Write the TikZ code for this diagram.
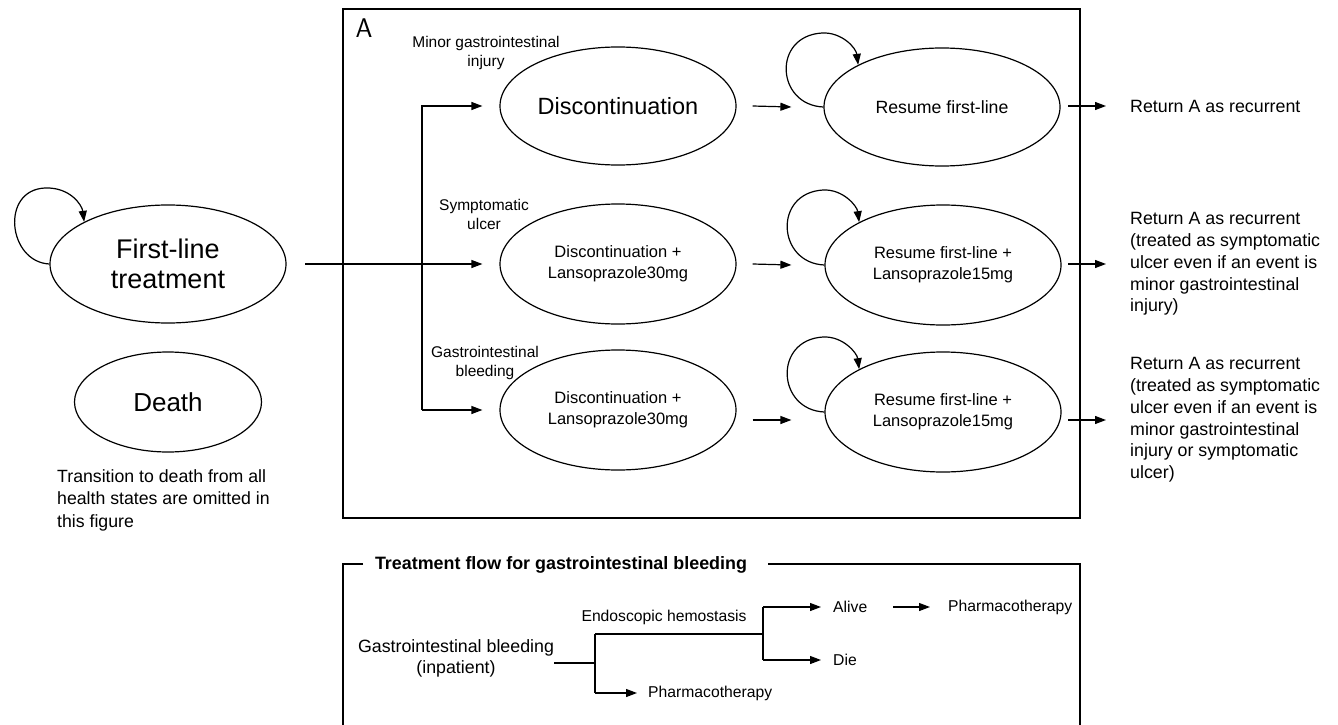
\documentclass[tikz,border=0pt]{standalone}
\usepackage{fontspec}
\setmainfont{Liberation Sans}
\usetikzlibrary{shapes.geometric,arrows.meta,calc}
\begin{document}
\begin{tikzpicture}[x=1pt,y=-1pt,
  state/.style={draw, ellipse, line width=1.2pt, inner sep=0pt, align=center},
  arr/.style={line width=1.2pt, -{Triangle[length=11pt,width=8pt]}},
  ln/.style={line width=1.2pt},
  lbl/.style={inner sep=0pt, align=center, font=\fontsize{15.5}{19}\selectfont},
  side/.style={inner sep=0pt, align=left, anchor=west, font=\fontsize{17.8}{21.8}\selectfont},
  small/.style={inner sep=0pt, anchor=west, font=\fontsize{15.7}{19}\selectfont},
]
\useasboundingbox (0,0) rectangle (1338,725);

% ---- left part
\node[state, minimum width=236, minimum height=118, font=\fontsize{27}{30}\selectfont] (fl) at (168,264) {First-line\\treatment};
\node[state, minimum width=187, minimum height=100, font=\fontsize{26}{30}\selectfont] (death) at (168,402) {Death};
\node[inner sep=0pt, align=left, anchor=west, font=\fontsize{17.7}{22.5}\selectfont] (note) at (57,500) {Transition to death from all\\health states are omitted in\\this figure};
\draw[arr] (fl.west) .. controls (8,262) and (0,190) .. (45,188) .. controls (70,187) and (82,205) .. (fl.north west);

% ---- box A
\draw[ln] (343,9) rectangle (1080,518);
\node[inner sep=0pt, font=\sffamily\fontsize{27}{27}\selectfont] (A) at (364,28.5) {A};

\node[state, minimum width=236, minimum height=118, font=\fontsize{23.5}{28}\selectfont] (d1) at (618,106) {Discontinuation};
\node[state, minimum width=236, minimum height=120, font=\fontsize{16.5}{21}\selectfont] (d2) at (618,264) {Discontinuation +\\Lansoprazole30mg};
\node[state, minimum width=236, minimum height=120, font=\fontsize{16.5}{21}\selectfont] (d3) at (618,410) {Discontinuation +\\Lansoprazole30mg};

\node[state, minimum width=236, minimum height=118, font=\fontsize{17.7}{21}\selectfont] (r1) at (942,107) {Resume first-line};
\node[state, minimum width=236, minimum height=120, font=\fontsize{16.5}{21}\selectfont] (r2) at (943,265) {Resume first-line +\\Lansoprazole15mg};
\node[state, minimum width=236, minimum height=120, font=\fontsize{16.5}{21}\selectfont] (r3) at (943,412) {Resume first-line +\\Lansoprazole15mg};

\node[lbl] (l1) at (486,53) {Minor gastrointestinal\\injury};
\node[lbl] (l2) at (484,214) {Symptomatic\\ulcer};
\node[lbl] (l3) at (485,363) {Gastrointestinal\\bleeding};

% connectors into column 1
\coordinate (s0) at (305,264);
\coordinate (v1) at (422,106);
\coordinate (v3) at (422,410);
\draw[arr] (s0) -- ([xshift=-17pt]d2.west);
\draw[arr, line join=miter] (v3) -- (v1) -- ([xshift=-17pt]d1.west);
\draw[arr] (v3) -- ([xshift=-17pt]d3.west);

% column 1 -> column 2
\draw[arr] ([xshift=16pt]d1.east) -- ([xshift=-32pt]r1.west);
\draw[arr] ([xshift=16pt]d2.east) -- ([xshift=-33pt]r2.west);
\draw[arr] ([shift={(16pt,-10pt)}]d3.east) -- ([shift={(-33pt,-8pt)}]r3.west);

% self loops
\draw[arr] (r1.west) .. controls (776,105) and (772,36) .. (822,33) .. controls (842,32) and (856,48) .. (r1.north west);
\draw[arr] (r2.west) .. controls (777,263) and (773,193) .. (823,190) .. controls (843,189) and (857,206) .. (r2.north west);
\draw[arr] (r3.west) .. controls (777,410) and (773,340) .. (823,337) .. controls (843,336) and (857,353) .. (r3.north west);

% right texts
\node[side] (t1) at (1130,106) {Return A as recurrent};
\node[side] (t2) at (1130,264) {Return A as recurrent\\(treated as symptomatic\\ulcer even if an event is\\minor gastrointestinal\\injury)};
\node[side] (t3) at (1130,420) {Return A as recurrent\\(treated as symptomatic\\ulcer even if an event is\\minor gastrointestinal\\injury or symptomatic\\ulcer)};
\draw[arr] ([xshift=-62pt]t1.west) -- ([xshift=-24pt]t1.west);
\draw[arr] ([xshift=-62pt]t2.west) -- ([xshift=-24pt]t2.west);
\draw[arr] ([xshift=-62pt]t3.west) -- ([xshift=-24pt]t3.west);

% ---- bottom box
\draw[ln] (363,564) -| (343,730);
\draw[ln] (768,564) -| (1080,730);
\node[inner sep=0pt, font=\bfseries\fontsize{17.9}{20}\selectfont] (title) at (561,565) {Treatment flow for gastrointestinal bleeding};

\node[inner sep=0pt, align=center, font=\fontsize{17.8}{21}\selectfont] (gib) at (456,658) {Gastrointestinal bleeding\\(inpatient)};
\node[inner sep=0pt, font=\fontsize{15.7}{19}\selectfont] (endo) at (664,617) {Endoscopic hemostasis};
\node[small] (ph1) at (648,693) {Pharmacotherapy};
\node[small] (alive) at (833,607) {Alive};
\node[small] (die) at (833,660) {Die};
\node[small] (ph2) at (948,607) {Pharmacotherapy};

\coordinate (b0) at (595,663);
\coordinate (bt) at (595,634);
\coordinate (bb) at (595,693);
\coordinate (ej) at (763,634);
\coordinate (et) at (763,607);
\coordinate (eb) at (763,660);
\draw[ln] (gib.east |- b0) -- (b0);
\draw[ln] (bt) -- (bb);
\draw[ln] (bt) -- (ej);
\draw[ln] (et) -- (eb);
\draw[arr] (bb) -- ([xshift=-11pt]ph1.west);
\draw[arr] (et) -- ([xshift=-12pt]alive.west);
\draw[arr] (eb) -- ([xshift=-12pt]die.west);
\draw[arr] ([xshift=26pt]alive.east) -- ([xshift=-18pt]ph2.west);
\end{tikzpicture}
\end{document}
